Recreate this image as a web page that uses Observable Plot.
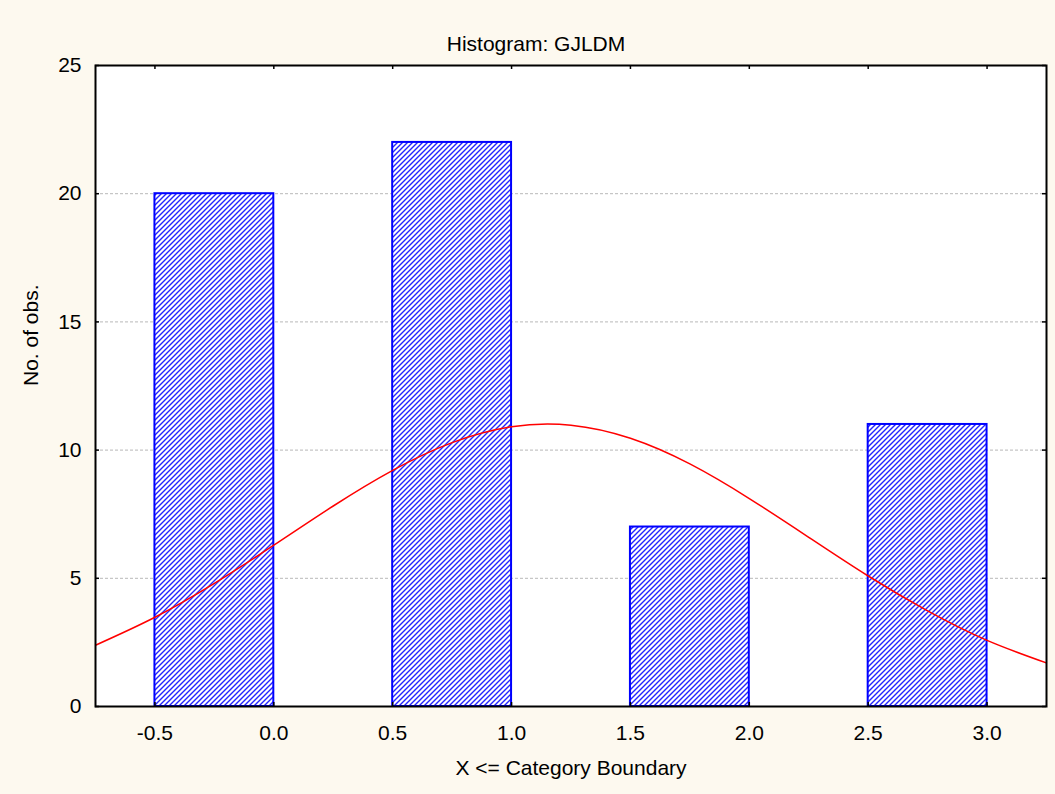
<!DOCTYPE html>
<html><head><meta charset="utf-8">
<script src="https://cdn.jsdelivr.net/npm/d3@7"></script>
<script src="https://cdn.jsdelivr.net/npm/@observablehq/plot@0.6"></script>
<style>body{margin:0;background:#fdf9ef;}</style>
</head><body><div id="chart"></div>
<script>
const titleText = "Histogram: GJLDM";
const xLabelText = "X <= Category Boundary";
const yLabelText = "No. of obs.";
const binStart = [-0.5, 0.5, 1.5, 2.5];
const binEnd = [0.0, 1.0, 2.0, 3.0];
const counts = [20, 22, 7, 11];
const curveX = [-0.75, -0.5, -0.25, 0, 0.25, 0.5, 0.75, 1.0, 1.25, 1.5, 1.75, 2.0, 2.25, 2.5, 2.75, 3.0, 3.25];
const curveY = [2.39, 3.48, 4.80, 6.29, 7.82, 9.21, 10.29, 10.91, 10.97, 10.46, 9.46, 8.11, 6.60, 5.09, 3.73, 2.58, 1.70];
const xTicks = [-0.5, 0.0, 0.5, 1.0, 1.5, 2.0, 2.5, 3.0];
const yTicks = [0, 5, 10, 15, 20, 25];
const gridY = [5, 10, 15, 20];

const bars = counts.map((c, i) => ({x1: binStart[i], x2: binEnd[i], y: c}));
const curve = curveX.map((x, i) => ({x, y: curveY[i]}));
const xd = [-0.75, 3.25], yd = [0, 25];
const tx = 4 * (xd[1] - xd[0]) / 951, ty = 4 * 25 / 641;

const plot = Plot.plot({
  width: 1055, height: 794,
  marginLeft: 95, marginRight: 9, marginTop: 65, marginBottom: 88,
  style: {background: "#fdf9ef", fontFamily: "'Liberation Sans', Arial, sans-serif", fontSize: "21px", color: "#000"},
  x: {domain: xd},
  y: {domain: yd},
  marks: [
    Plot.frame({fill: "white", stroke: null}),
    Plot.ruleY(gridY, {y: d => d, stroke: "#b8b8b8", strokeDasharray: "3,2", strokeWidth: 1}),
    Plot.rectY(bars, {x1: "x1", x2: "x2", y: "y", fill: "url(#hatch)", stroke: "#0000ff", strokeWidth: 2}),
    Plot.line(curve, {x: "x", y: "y", stroke: "#ff0000", strokeWidth: 1.5, curve: "natural", clip: true}),
    Plot.ruleX(xTicks, {x: d => d, y1: 0, y2: ty, stroke: "black", strokeWidth: 1.5}),
    Plot.ruleX(xTicks, {x: d => d, y1: 25, y2: 25 - ty, stroke: "black", strokeWidth: 1.5}),
    Plot.ruleY(yTicks, {y: d => d, x1: xd[0], x2: xd[0] + tx, stroke: "black", strokeWidth: 1.5}),
    Plot.ruleY(yTicks, {y: d => d, x1: xd[1], x2: xd[1] - tx, stroke: "black", strokeWidth: 1.5}),
    Plot.frame({stroke: "black", strokeWidth: 2}),
    Plot.axisX(xTicks, {tickSize: 0, tickPadding: 19, tickFormat: d => d.toFixed(1), fontSize: 21, label: null}),
    Plot.axisY(yTicks, {tickSize: 0, tickPadding: 14, tickFormat: d => String(d), fontSize: 21, label: null}),
    Plot.text([titleText], {text: d => d, frameAnchor: "top", dy: -29, dx: -35, fontSize: 21}),
    Plot.text([xLabelText], {text: d => d, frameAnchor: "bottom", dy: 68, fontSize: 21}),
    Plot.text([yLabelText], {text: d => d, frameAnchor: "left", dx: -64, rotate: -90, fontSize: 21})
  ]
});
d3.select(plot).insert("defs", ":first-child").html(
  '<pattern id="hatch" patternUnits="userSpaceOnUse" width="5" height="5">' +
  '<rect width="5" height="5" fill="white"/>' +
  '<path d="M-1,1 l2,-2 M0,5 l5,-5 M4,6 l2,-2" stroke="#2323ff" stroke-width="1.4"/>' +
  '</pattern>');
document.getElementById("chart").appendChild(plot);
</script>
</body></html>
